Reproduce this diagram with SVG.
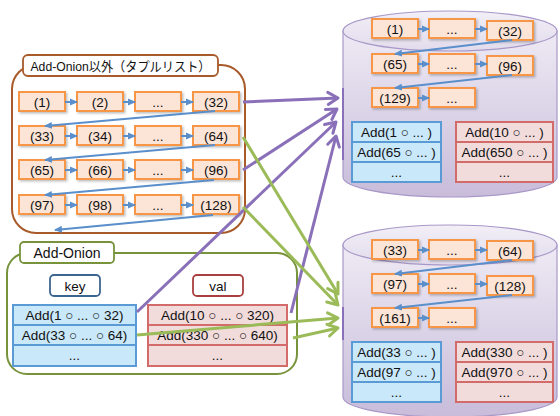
<svg xmlns="http://www.w3.org/2000/svg" width="560" height="416" viewBox="0 0 560 416">
<defs>
<linearGradient id="cyl" x1="0" y1="0" x2="0" y2="1">
<stop offset="0" stop-color="#EEEAF4"/>
<stop offset="1" stop-color="#C8BCDA"/>
</linearGradient>
<linearGradient id="cyltop" x1="0" y1="0" x2="0" y2="1">
<stop offset="0" stop-color="#F2EFF7"/>
<stop offset="1" stop-color="#E2DBEC"/>
</linearGradient>
<filter id="sh" x="-10%" y="-10%" width="130%" height="140%">
<feDropShadow dx="1.5" dy="1.5" stdDeviation="0.8" flood-color="#000" flood-opacity="0.25"/>
</filter>
<marker id="ab" markerUnits="userSpaceOnUse" markerWidth="8" markerHeight="8" viewBox="0 0 8 8" refX="7" refY="4" orient="auto">
<path d="M0,0.5 L8,4 L0,7.5 Z" fill="#5A8FCB"/>
</marker>
<marker id="ap" markerUnits="userSpaceOnUse" markerWidth="16" markerHeight="16" viewBox="0 0 16 16" refX="13" refY="8" orient="auto">
<path d="M3,2 L13,8 L3,14" fill="none" stroke="#8A70B8" stroke-width="3" stroke-linecap="round" stroke-linejoin="round"/>
</marker>
<marker id="ag" markerUnits="userSpaceOnUse" markerWidth="16" markerHeight="16" viewBox="0 0 16 16" refX="13" refY="8" orient="auto">
<path d="M3,2 L13,8 L3,14" fill="none" stroke="#9BBB59" stroke-width="3" stroke-linecap="round" stroke-linejoin="round"/>
</marker>
</defs>
<style>
text{font-family:"Liberation Sans","Noto Sans CJK JP",sans-serif;font-size:13.5px;fill:#111;text-anchor:middle}
.n rect{fill:#FCE4D6;stroke:#F79646;stroke-width:2;filter:url(#sh)}
.bl{stroke:#5A8FCB;stroke-width:2;fill:none;marker-end:url(#ab)}
.pu{stroke:#8A70B8;stroke-width:3;fill:none;marker-end:url(#ap)}
.gr{stroke:#9BBB59;stroke-width:3;fill:none;marker-end:url(#ag)}
.kt rect{fill:#C9E8F9;stroke:#5B9BD5;stroke-width:2}
.vt rect{fill:#F2DCDB;stroke:#D46B6B;stroke-width:2}
.cy{fill:url(#cyl);stroke:#A898C8;stroke-width:1.2}
</style>

<!-- Top group -->
<g id="grp-tuple">
<rect x="12" y="65" width="233" height="168" rx="24" fill="#fff" stroke="#A85A2A" stroke-width="2"/>
<rect x="23" y="55" width="195" height="21" rx="5" fill="#fff" stroke="#A85A2A" stroke-width="1.8"/>
<text x="120.5" y="71" style="font-size:13px" textLength="180" lengthAdjust="spacingAndGlyphs">Add-Onion以外（タプルリスト）</text>
</g>

<g id="tuple-nodes" class="n">
<g id="t1"><rect x="19" y="92" width="46" height="19"/><text x="42" y="107">(1)</text></g>
<g id="t2"><rect x="77" y="92" width="46" height="19"/><text x="100" y="107">(2)</text></g>
<g id="t3"><rect x="135" y="92" width="46" height="19"/><text x="158" y="107">...</text></g>
<g id="t32"><rect x="193" y="92" width="46" height="19"/><text x="216" y="107">(32)</text></g>
<g id="t33"><rect x="19" y="126" width="46" height="19"/><text x="42" y="141">(33)</text></g>
<g id="t34"><rect x="77" y="126" width="46" height="19"/><text x="100" y="141">(34)</text></g>
<g id="t35"><rect x="135" y="126" width="46" height="19"/><text x="158" y="141">...</text></g>
<g id="t64"><rect x="193" y="126" width="46" height="19"/><text x="216" y="141">(64)</text></g>
<g id="t65"><rect x="19" y="160" width="46" height="19"/><text x="42" y="175">(65)</text></g>
<g id="t66"><rect x="77" y="160" width="46" height="19"/><text x="100" y="175">(66)</text></g>
<g id="t67"><rect x="135" y="160" width="46" height="19"/><text x="158" y="175">...</text></g>
<g id="t96"><rect x="193" y="160" width="46" height="19"/><text x="216" y="175">(96)</text></g>
<g id="t97"><rect x="19" y="195" width="46" height="19"/><text x="42" y="210">(97)</text></g>
<g id="t98"><rect x="77" y="195" width="46" height="19"/><text x="100" y="210">(98)</text></g>
<g id="t99"><rect x="135" y="195" width="46" height="19"/><text x="158" y="210">...</text></g>
<g id="t128"><rect x="193" y="195" width="46" height="19"/><text x="216" y="210">(128)</text></g>
</g>

<!-- Bottom group -->
<g id="grp-onion">
<rect x="7" y="253" width="290" height="121" rx="20" fill="#fff" stroke="#77933C" stroke-width="2"/>
<rect x="20" y="242" width="94" height="21" rx="4" fill="#fff" stroke="#77933C" stroke-width="1.8"/>
<text x="67" y="258" style="font-size:14px">Add-Onion</text>
</g>
<g id="key-label"><rect x="50" y="275" width="50" height="21" rx="4" fill="#fff" stroke="#3C6690" stroke-width="1.8"/><text x="75" y="291">key</text></g>
<g id="val-label"><rect x="193" y="275" width="50" height="21" rx="4" fill="#fff" stroke="#A84040" stroke-width="1.8"/><text x="218" y="291">val</text></g>
<g id="key-table" class="kt">
<rect x="13" y="305" width="123" height="20"/><rect x="13" y="325" width="123" height="20"/><rect x="13" y="345" width="123" height="21"/>
<text x="74.5" y="320">Add(1 ○ ... ○ 32)</text>
<text x="74.5" y="340">Add(33 ○ ...  ○ 64)</text>
<text x="74.5" y="360">...</text>
</g>
<g id="val-table" class="vt">
<rect x="148" y="305" width="139" height="20"/><rect x="148" y="325" width="139" height="20"/><rect x="148" y="345" width="139" height="21"/>
<text x="217.5" y="320">Add(10 ○ ...  ○ 320)</text>
<text x="217.5" y="340">Add(330 ○ ...  ○ 640)</text>
<text x="217.5" y="360">...</text>
</g>

<!-- Top cylinder -->
<g id="db1">
<path class="cy" d="M343,31 L343,177 A107,20 0 0 0 557,177 L557,31 Z"/>
<ellipse cx="450" cy="31" rx="107" ry="20" fill="url(#cyltop)" stroke="#A898C8" stroke-width="1.2"/>
<line x1="343" y1="88" x2="343" y2="160" stroke="#8A70B8" stroke-width="2"/>
<g class="n">
<rect x="372" y="19" width="46" height="19"/><text x="395" y="34">(1)</text>
<rect x="429" y="19" width="46" height="19"/><text x="452" y="34">...</text>
<rect x="487" y="21" width="46" height="19"/><text x="510" y="36">(32)</text>
<rect x="372" y="54" width="46" height="19"/><text x="395" y="69">(65)</text>
<rect x="429" y="54" width="46" height="19"/><text x="452" y="69">...</text>
<rect x="487" y="56" width="46" height="19"/><text x="510" y="71">(96)</text>
<rect x="372" y="88" width="46" height="19"/><text x="395" y="103">(129)</text>
<rect x="429" y="88" width="46" height="19"/><text x="452" y="103">...</text>
</g>
<path class="bl" d="M418,29 L429,29"/><path class="bl" d="M475,29 L487,29"/><path class="bl" d="M512,40 L395,54"/>
<path class="bl" d="M418,64 L429,64"/><path class="bl" d="M475,64 L487,64"/><path class="bl" d="M512,75 L395,88"/>
<path class="bl" d="M418,98 L429,98"/>
<g class="kt">
<rect x="352" y="122" width="89" height="20"/><rect x="352" y="142" width="89" height="20"/><rect x="352" y="162" width="89" height="20"/>
<text x="396.5" y="137">Add(1 ○ ... )</text><text x="396.5" y="157">Add(65 ○ ... )</text><text x="396.5" y="177">...</text>
</g>
<g class="vt">
<rect x="456" y="122" width="97" height="20"/><rect x="456" y="142" width="97" height="20"/><rect x="456" y="162" width="97" height="20"/>
<text x="504.5" y="137">Add(10 ○ ... )</text><text x="504.5" y="157">Add(650 ○ ... )</text><text x="504.5" y="177">...</text>
</g>
</g>

<!-- Bottom cylinder -->
<g id="db2">
<path class="cy" d="M343,245 L343,397 A107,20 0 0 0 557,397 L557,245 Z"/>
<ellipse cx="450" cy="245" rx="107" ry="20" fill="url(#cyltop)" stroke="#A898C8" stroke-width="1.2"/>
<line x1="343" y1="307" x2="343" y2="340" stroke="#8A70B8" stroke-width="2"/>
<g class="n">
<rect x="372" y="240" width="46" height="19"/><text x="395" y="255">(33)</text>
<rect x="429" y="240" width="46" height="19"/><text x="452" y="255">...</text>
<rect x="487" y="241" width="46" height="19"/><text x="510" y="256">(64)</text>
<rect x="372" y="274" width="46" height="19"/><text x="395" y="289">(97)</text>
<rect x="429" y="274" width="46" height="19"/><text x="452" y="289">...</text>
<rect x="487" y="276" width="46" height="19"/><text x="510" y="291">(128)</text>
<rect x="372" y="308" width="46" height="19"/><text x="395" y="323">(161)</text>
<rect x="429" y="308" width="46" height="19"/><text x="452" y="323">...</text>
</g>
<path class="bl" d="M418,250 L429,250"/><path class="bl" d="M475,250 L487,250"/><path class="bl" d="M512,260 L395,274"/>
<path class="bl" d="M418,284 L429,284"/><path class="bl" d="M475,284 L487,284"/><path class="bl" d="M512,295 L395,308"/>
<path class="bl" d="M418,318 L429,318"/>
<g class="kt">
<rect x="352" y="342" width="89" height="20"/><rect x="352" y="362" width="89" height="20"/><rect x="352" y="382" width="89" height="20"/>
<text x="396.5" y="357">Add(33 ○ ... )</text><text x="396.5" y="377">Add(97 ○ ... )</text><text x="396.5" y="397">...</text>
</g>
<g class="vt">
<rect x="456" y="342" width="97" height="20"/><rect x="456" y="362" width="97" height="20"/><rect x="456" y="382" width="97" height="20"/>
<text x="504.5" y="357">Add(330 ○ ... )</text><text x="504.5" y="377">Add(970 ○ ... )</text><text x="504.5" y="397">...</text>
</g>
</g>

<!-- Connectors -->
<g id="connectors">
<path class="bl" d="M65,102 L77,102"/><path class="bl" d="M123,102 L135,102"/><path class="bl" d="M181,102 L193,102"/><path class="bl" d="M215,111 L45,126"/>
<path class="bl" d="M65,136 L77,136"/><path class="bl" d="M123,136 L135,136"/><path class="bl" d="M181,136 L193,136"/><path class="bl" d="M215,145 L45,160"/>
<path class="bl" d="M65,170 L77,170"/><path class="bl" d="M123,170 L135,170"/><path class="bl" d="M181,170 L193,170"/><path class="bl" d="M214,180 L45,195"/>
<path class="bl" d="M65,205 L77,205"/><path class="bl" d="M123,205 L135,205"/><path class="bl" d="M181,205 L193,205"/><path class="bl" d="M213,215 L55,230"/>
<path class="pu" d="M243,102 L338,98"/>
<path class="pu" d="M243,170 L337,109"/>
<path class="pu" d="M137,312 L336,122"/>
<path class="pu" d="M291,313 L336,136"/>
<path class="gr" d="M243,137 L338,294"/>
<path class="gr" d="M243,207 L338,305"/>
<path class="gr" d="M137,335 L338,318"/>
<path class="gr" d="M293,338 L338,328"/>
</g>
</svg>
